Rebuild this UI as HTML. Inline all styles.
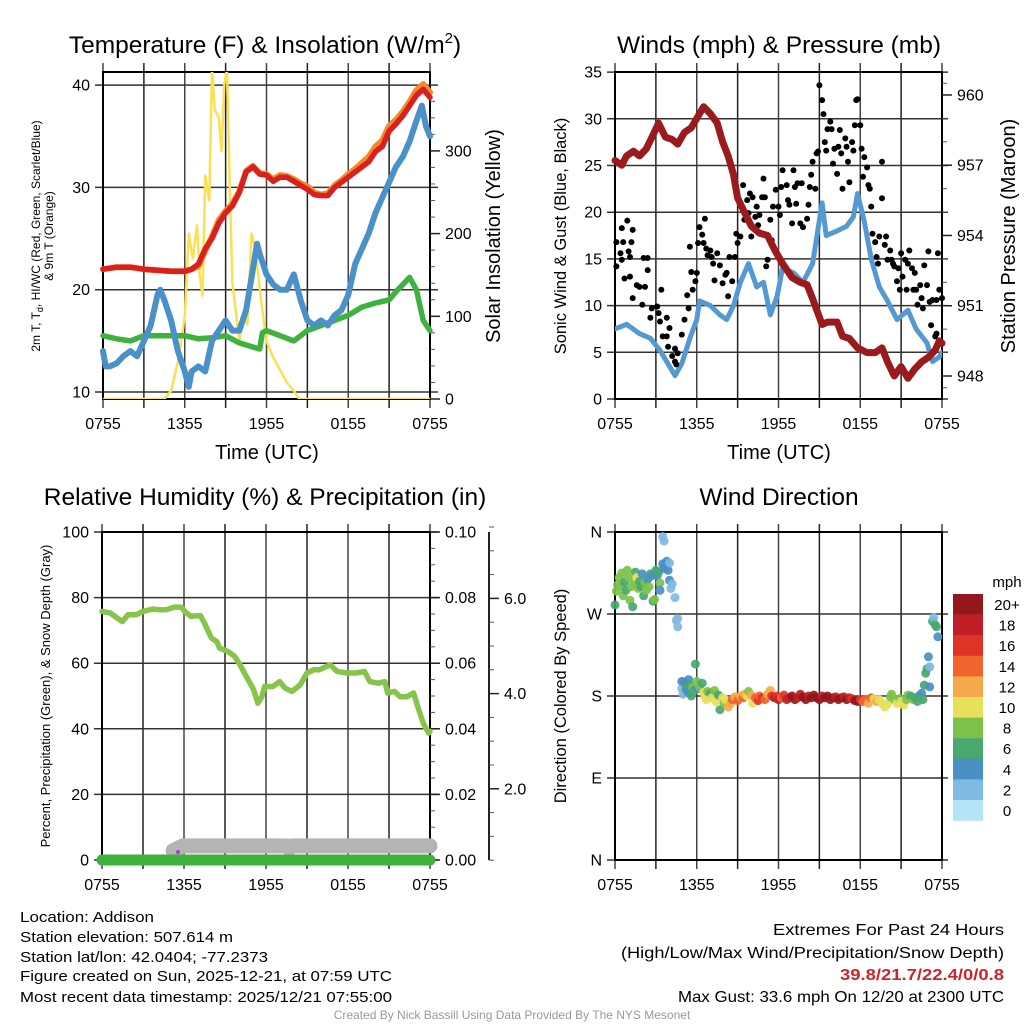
<!DOCTYPE html>
<html><head><meta charset="utf-8"><style>
html,body{margin:0;padding:0;background:#fff}
svg{display:block;font-family:"Liberation Sans",Arial,sans-serif}
</style></head><body>
<svg id="fig" width="1024" height="1024" viewBox="0 0 1024 1024" xmlns="http://www.w3.org/2000/svg">
<defs>
<clipPath id="c1"><rect x="103" y="72" width="327" height="327"/></clipPath>
<clipPath id="c2"><rect x="615" y="72" width="327" height="327"/></clipPath>
</defs>
<text x="265" y="53" font-size="24.5" text-anchor="middle">Temperature (F) &amp; Insolation (W/m<tspan font-size="15" dy="-10">2</tspan><tspan dy="10">)</tspan></text>
<text x="779" y="53" font-size="24.5" text-anchor="middle">Winds (mph) &amp; Pressure (mb)</text>
<text x="265" y="505" font-size="24.5" text-anchor="middle">Relative Humidity (%) &amp; Precipitation (in)</text>
<text x="779" y="505" font-size="24.5" text-anchor="middle">Wind Direction</text>

<text x="267" y="459" font-size="20" text-anchor="middle">Time (UTC)</text>
<text x="779" y="459" font-size="20" text-anchor="middle">Time (UTC)</text>

<g font-size="12" text-anchor="middle">
<text transform="translate(40,236) rotate(-90)">2m T, T<tspan font-size="9" dy="3">d</tspan><tspan dy="-3">, HI/WC (Red, Green, Scarlet/Blue)</tspan></text>
<text transform="translate(53,236) rotate(-90)">&amp; 9m T (Orange)</text>
</g>
<text transform="translate(500,236) rotate(-90)" font-size="20" text-anchor="middle">Solar Insolation (Yellow)</text>
<text transform="translate(566,236) rotate(-90)" font-size="16.5" text-anchor="middle">Sonic Wind &amp; Gust (Blue, Black)</text>
<text transform="translate(1015,236) rotate(-90)" font-size="20" text-anchor="middle">Station Pressure (Maroon)</text>
<text transform="translate(50,696) rotate(-90)" font-size="13" text-anchor="middle">Percent, Precipitation (Green), &amp; Snow Depth (Gray)</text>
<text transform="translate(566,696) rotate(-90)" font-size="16.5" text-anchor="middle">Direction (Colored By Speed)</text>

<g font-size="15">
<text x="20" y="922" textLength="134" lengthAdjust="spacingAndGlyphs">Location: Addison</text>
<text x="20" y="942" textLength="213" lengthAdjust="spacingAndGlyphs">Station elevation: 507.614 m</text>
<text x="20" y="962" textLength="248" lengthAdjust="spacingAndGlyphs">Station lat/lon: 42.0404; -77.2373</text>
<text x="20" y="981" textLength="372" lengthAdjust="spacingAndGlyphs">Figure created on Sun, 2025-12-21, at 07:59 UTC</text>
<text x="20" y="1002" textLength="372" lengthAdjust="spacingAndGlyphs">Most recent data timestamp: 2025/12/21 07:55:00</text>
</g>
<g font-size="16" text-anchor="end">
<text x="1004" y="935" textLength="231" lengthAdjust="spacingAndGlyphs">Extremes For Past 24 Hours</text>
<text x="1004" y="958" textLength="383" lengthAdjust="spacingAndGlyphs">(High/Low/Max Wind/Precipitation/Snow Depth)</text>
<text x="1004" y="980" textLength="164" lengthAdjust="spacingAndGlyphs" fill="#c8252c" font-weight="bold">39.8/21.7/22.4/0/0.8</text>
<text x="1004" y="1002" textLength="326" lengthAdjust="spacingAndGlyphs">Max Gust: 33.6 mph On 12/20 at 2300 UTC</text>
</g>
<text x="512" y="1019" font-size="12" fill="#999" text-anchor="middle">Created By Nick Bassill Using Data Provided By The NYS Mesonet</text>
<g id="layer"></g>
</svg>
<script>
// ---------- Data ----------
const xTickLabels = ["0755","1355","1955","0155","0755"];
// Temperature panel
const tempHours = [0,1,2,3,4,5,6,6.5,7,7.5,8,8.5,9,9.5,10,10.5,11,11.5,12,12.5,13,13.5,14,14.5,15,15.5,16,16.5,17,17.5,18,18.5,19,19.5,20,20.5,21,21.5,22,22.5,23,23.5,24];
const tempRed = [22,22.2,22.2,22,21.9,21.8,21.8,22,22.5,24,25,26.5,27.5,28.2,29.5,31.5,32,31.3,31.2,30.6,31,31,30.6,30.2,29.8,29.3,29.2,29.2,30,30.5,31,31.5,32,32.5,33.5,34,35.5,36.2,37,38,39,39.6,38.8];
const tempOrange = [22,22.2,22.2,22,21.9,21.8,21.8,22,22.3,23.8,25.2,26.8,27.7,28.4,29.6,31.6,32.1,31.4,31.3,30.8,31.2,31.1,30.8,30.4,30.1,29.5,29.3,29.4,30.2,30.7,31.3,31.8,32.4,33,34,34.6,36,36.6,37.4,38.4,39.5,40.1,39.3];
const dewHours = [0,0.2,0.5,1,1.5,2,2.5,3,3.5,4,4.2,4.5,5,5.5,6,6.3,6.5,7,7.5,8,8.5,9,9.5,10,10.5,11,11.3,11.5,12,12.5,13,13.5,14,14.5,15,15.5,16,16.5,17,17.5,18,18.5,19,19.5,20,20.5,21,21.5,22,22.5,23,23.4,23.7,24];
const dewBlue = [14,12.5,12.5,12.8,13.5,14,13.5,15,16.5,19.5,20,19,17,14,12,10.5,12,12.5,12,15,16,17,16,16,18,22,24.5,23.5,21.5,20.5,20,20,21.5,19,17,16.5,17,16.5,17.5,18,19.5,22.5,24,25.5,27.5,29,30.5,32,33,34.5,36.5,38,36,35];
const hiwcHours = [0,1,2,3,4,5,6,7,8,9,10,11,11.5,11.7,12,13,14,15,16,17,18,19,20,21,21.5,22,22.5,23,23.5,24];
const hiwcGreen = [15.5,15.2,15,15.5,15.5,15.5,15.5,15.2,15.3,15.5,14.8,14.4,14.2,15.8,16,15.5,15,16,16.5,17,17.5,18.3,18.7,19,19.8,20.5,21.2,20,17,16];
const solarHours = [0,4.5,5,5.5,6,6.3,6.6,6.9,7.1,7.3,7.5,7.8,8,8.2,8.5,8.7,8.9,9.1,9.3,9.5,9.8,10,10.3,10.6,10.9,11.2,11.6,12,12.5,13,13.5,14,14.4,24];
const solarYellow = [0,0,10,45,100,200,170,210,150,125,270,240,400,350,340,300,380,400,260,140,100,70,100,90,200,180,120,70,50,35,20,10,0,0];
// Wind panel
const windHours = [0,0.85,1.8,2.6,3.3,4.0,4.4,4.9,5.5,6.0,6.2,7.0,7.7,8.2,8.7,9.2,9.8,10.4,10.9,11.4,11.9,12.3,13.1,13.8,14.5,15.2,15.5,16.3,17.0,17.5,17.8,18.3,18.8,19.4,20.0,20.7,21.5,22.1,22.9,23.3,23.8,24];
const windSpeed = [7.5,8,7,6.5,5.2,3.5,2.5,3.8,6.5,8.5,10.5,10,9,8.5,10,12.5,14.5,12,12.5,9,11,14,13.5,12.5,14.5,21,17.5,18,18.5,19.5,22,19,15,12,10.5,8.5,9.5,7.5,6,4,4.5,5];
const presHours = [0,0.5,0.85,1.35,1.8,2.3,2.8,3.2,3.7,4.2,4.6,5.1,5.6,6.0,6.5,7.0,7.5,7.9,8.3,8.7,9.0,9.5,10.0,10.6,11.2,11.7,12.3,13.0,13.6,14.1,14.5,15.2,15.6,16.3,16.7,17.2,17.8,18.5,19.1,19.6,20.0,20.5,21.0,21.5,22.0,22.5,23.0,23.5,23.8,24];
const presMb = [957.2,957.0,957.4,957.6,957.4,957.7,958.3,958.8,958.2,958.1,957.9,958.4,958.6,959.0,959.5,959.2,958.8,958.0,957.4,956.6,955.6,955.0,954.4,954.1,954.0,953.4,952.8,952.2,952.0,951.9,951.3,950.2,950.3,950.3,949.7,949.6,949.2,949.0,949.0,949.2,948.6,948.0,948.4,947.9,948.3,948.6,948.8,949.1,949.5,949.4];
const gustHours = [0.1,0.1,0.4,0.5,0.6,0.5,0.7,0.9,1.0,1.1,1.2,1.3,1.1,1.3,1.6,1.8,2.1,2.2,2.4,2.4,2.0,2.6,2.7,3.1,3.2,3.4,3.3,3.5,3.8,3.8,3.9,4.0,4.2,4.4,4.4,4.5,4.6,4.9,5.1,5.3,5.4,5.5,5.6,5.7,5.9,6.0,6.1,6.2,6.4,6.5,6.6,6.7,6.8,7.0,7.1,7.2,7.3,7.5,7.7,7.9,8.1,8.2,8.3,8.4,8.6,8.8,8.9,9.0,9.2,9.4,9.5,9.7,9.8,9.9,10.0,10.1,10.3,10.4,10.5,10.6,10.8,10.9,11.0,11.1,11.2,11.4,11.5,11.6,11.8,12.0,12.1,12.2,12.3,12.6,12.7,12.8,13.0,13.1,13.2,13.3,13.4,13.6,13.7,13.8,14.1,14.2,14.3,14.4,14.5,14.7,14.8,14.9,15.0,15.2,15.3,15.4,15.5,15.6,15.8,15.9,16.0,16.1,16.3,16.4,16.5,16.6,16.7,16.9,17.0,17.1,17.2,17.4,17.5,17.6,17.7,17.8,18.0,18.1,18.2,18.3,18.5,18.6,18.7,18.8,18.9,19.1,19.2,19.3,19.4,19.6,19.6,19.8,19.9,20.0,20.2,20.3,20.4,20.5,20.7,20.8,20.9,21.0,21.1,21.3,21.4,21.5,21.6,21.8,21.9,22.0,22.1,22.2,22.4,22.5,22.6,22.7,22.9,23.0,23.1,23.2,23.3,23.5,23.6,23.7,23.8,24.0,23.6];
const gustSpeed = [14.2,16.8,15.6,18.3,16.8,14.9,12.9,19.1,15.8,15.2,16.8,18.1,13.1,10.8,12.2,12.0,15.1,12.0,13.8,15.1,10.1,8.7,9.7,9.9,9.2,11.7,8.3,6.7,8.7,6.7,5.6,7.6,4.6,5.4,4.0,3.7,4.9,6.9,8.5,11.1,9.7,16.3,13.6,11.7,12.6,13.5,16.7,18.4,17.6,16.7,19.3,16.1,15.4,15.9,15.2,14.5,12.7,15.6,14.3,12.4,13.3,13.5,11.0,15.2,12.6,15.2,17.7,16.7,17.4,22.9,19.2,21.3,19.9,22.0,17.4,21.6,19.5,20.6,18.6,19.7,21.6,23.6,21.6,14.2,14.9,19.2,17.0,20.6,22.4,20.6,19.7,22.7,24.5,22.9,21.3,20.8,18.8,24.5,22.7,20.9,23.1,18.8,23.1,18.4,19.3,20.8,22.7,24.0,25.4,22.5,26.3,26.5,33.6,32.0,30.5,27.5,26.6,28.9,29.7,28.9,25.2,26.8,24.1,27.0,28.8,26.3,22.5,27.9,27.0,25.4,23.2,27.5,26.6,29.3,32.0,32.1,29.3,26.8,23.8,25.9,24.8,22.9,22.5,20.6,17.7,16.8,15.2,14.5,17.4,21.5,25.4,16.5,17.4,14.9,15.9,14.9,14.5,14.2,12.6,14.0,11.7,15.6,13.1,14.9,11.7,14.5,15.9,14.0,11.7,13.5,11.7,10.1,12.2,10.8,9.7,14.3,12.2,15.8,10.4,7.9,10.6,6.7,10.6,15.6,11.7,10.8,7.0];
// Humidity panel
const rhHours = [0,0.6,1.3,1.5,1.9,2.5,3.0,3.7,4.2,4.7,5.3,5.8,6.05,6.5,7.2,7.5,8.0,8.4,8.6,9.2,9.7,10.1,10.7,11.1,11.4,11.7,11.9,12.5,13.0,13.4,13.9,14.5,15.0,15.5,15.9,16.7,17.2,17.9,18.6,19.2,19.6,20.2,20.7,20.9,21.4,21.8,22.3,22.8,23.1,23.5,23.9,24.0];
const rhPercent = [75.8,75.3,73.2,72.7,74.8,74.8,75.8,76.5,76.3,76.3,77.1,77.1,75.8,74.3,74.5,72.2,67.7,66.6,64.6,63.6,62.1,59.5,54.9,51.9,47.8,49.8,52.9,52.9,54.4,52.4,51.4,53.4,57.0,58.0,58.0,59.5,57.5,57.0,57.0,57.5,54.4,53.9,54.4,50.9,51.4,49.8,49.8,50.9,46.8,41.7,38.7,39.2];
const precipHours = [0,24];
const precipInches = [0,0];
const snowHours = [5.2,5.9,9,13.5,13.7,13.9,18,24];
const snowInches = [0.7,0.8,0.8,0.8,0.75,0.8,0.8,0.8];
// Direction panel
const dirHours = [0.0,0.1,0.2,0.3,0.4,0.5,0.6,0.7,0.8,0.9,1.0,1.1,1.2,1.3,1.4,1.5,1.6,1.7,1.8,1.9,2.0,2.1,2.2,2.3,2.4,2.5,2.6,2.7,2.8,2.9,3.0,3.1,3.2,3.3,3.3,3.5,3.6,3.5,3.6,3.7,3.8,3.9,4.0,4.0,4.1,4.2,4.4,4.5,4.6,4.6,4.9,4.9,5.0,5.1,5.2,5.3,5.4,5.5,5.6,5.7,5.8,5.9,6.0,6.1,6.2,6.4,6.5,6.6,6.7,6.8,7.0,7.1,7.3,7.4,7.6,7.7,7.9,8.0,8.1,8.3,8.5,8.6,8.8,9.0,9.2,9.4,9.5,9.7,9.8,10.0,10.1,10.3,10.5,10.6,10.8,11.0,11.2,11.4,11.5,11.7,11.9,12.0,12.2,12.4,12.6,12.8,13.0,13.2,13.4,13.6,13.8,14.0,14.2,14.4,14.6,14.8,15.0,15.2,15.4,15.6,15.8,16.0,16.2,16.4,16.6,16.8,17.0,17.2,17.4,17.6,17.8,18.0,18.2,18.4,18.6,18.8,19.0,19.2,19.4,19.6,19.8,20.0,20.2,20.3,20.5,20.7,20.9,21.0,21.2,21.4,21.5,21.7,21.9,22.0,22.2,22.3,22.5,22.6,22.7,22.8,22.9,23.0,23.1,23.1,23.3,23.4,23.5,23.6,23.7];
const dirDegrees = [280,295,302,310,300,315,290,305,296,318,310,285,300,278,305,316,310,298,306,300,314,290,304,296,308,300,314,312,284,286,318,312,316,304,296,325,320,355,350,322,328,318,326,307,298,303,288,263,265,256,188,196,182,195,188,185,198,192,180,189,186,215,196,188,190,194,184,180,176,185,183,178,186,174,181,165,178,172,176,168,172,176,179,175,180,178,182,180,185,181,172,178,175,180,178,176,182,186,180,178,180,176,178,181,176,178,180,176,178,182,179,176,180,178,181,178,176,180,178,180,176,178,179,176,178,179,176,178,177,175,174,176,174,176,172,178,177,174,176,172,168,171,179,182,176,172,177,174,170,176,181,180,176,178,174,180,183,176,192,205,210,223,212,190,262,266,258,256,245];
const dirSpeeds = [6,8,8,8,8,8,8,6,6,8,8,8,8,6,8,6,10,8,6,6,4,6,8,8,4,8,6,4,6,8,6,4,6,8,4,4,4,2,2,4,4,4,2,4,2,2,2,2,2,2,2,4,2,4,6,4,4,6,6,8,6,6,8,4,8,6,10,10,10,8,6,10,8,10,6,6,10,8,10,12,12,14,12,14,12,14,12,10,8,12,10,14,16,14,16,14,12,12,16,18,16,18,14,16,18,18,20,20,18,18,20,20,18,20,20,20,20,18,20,20,20,20,18,20,20,18,20,18,16,20,20,16,14,14,12,14,10,12,10,10,10,10,8,8,8,10,8,10,10,8,8,6,8,6,6,6,4,6,6,6,6,4,2,4,6,2,6,6,4];
const speedBins = ["0","2","4","6","8","10","12","14","16","18","20+"];
const speedColors = ["#b5e3f8","#7fbae3","#4a8fc4","#48a870","#7dc14b","#e6e05b","#f6a94a","#f0652d","#de3427","#c11e25","#93171b"];

// ---------- Helpers ----------
const NS = "http://www.w3.org/2000/svg";
const layer = document.getElementById("layer");
function mk(tag, attrs, parent) {
  const e = document.createElementNS(NS, tag);
  for (const k in attrs) e.setAttribute(k, attrs[k]);
  (parent || layer).appendChild(e);
  return e;
}
function txt(x, y, s, size, anchor, parent) {
  const t = mk("text", {x: x, y: y, "font-size": size, "text-anchor": anchor}, parent);
  t.textContent = s;
  return t;
}
function pathFrom(xs, ys, sx, sy) {
  let d = "";
  for (let i = 0; i < xs.length; i++) d += (i ? "L" : "M") + sx(xs[i]).toFixed(1) + "," + sy(ys[i]).toFixed(1);
  return d;
}

// ---------- Panel frame ----------
function frame(name, x0, x1, y0, y1, hTicks, sy, leftLabels, yTop, rightX) {
  const g = mk("g", {});
  
  
  const sx = h => x0 + h * (x1 - x0) / 24;
  for (let i = 0; i <= 8; i++) {
    const x = sx(i * 3);
    const l = mk("line", {x1: x, x2: x, y1: yTop, y2: y1 + 9, stroke: i % 2 ? "#222" : "#444", "stroke-width": 1.5}, g);
    
    
  }
  hTicks.forEach((v, i) => {
    const y = sy(v);
    const l = mk("line", {x1: x0 - 8, x2: rightX, y1: y, y2: y, stroke: "#333", "stroke-width": 1.5}, g);
    
    
    const t = txt(x0 - 13, y + 5.5, leftLabels[i], 16, "end", g);
    
    
  });
  const b = mk("rect", {x: x0, y: y0, width: x1 - x0, height: y1 - y0, fill: "none", stroke: "#000", "stroke-width": 2}, g);
  
  
  xTickLabels.forEach((s, i) => {
    const t = txt(sx(i * 6), y1 + 30, s, 16, "middle", g);
    
    
  });
  return sx;
}
function rightTicks(x, vals, sy, labels, minorVals, g) {
  minorVals.forEach(v => {
    const l = mk("line", {x1: x, x2: x + 5, y1: sy(v), y2: sy(v), stroke: "#555", "stroke-width": 1}, g);
    
    
  });
  vals.forEach((v, i) => {
    const l = mk("line", {x1: x, x2: x + 10, y1: sy(v), y2: sy(v), stroke: "#222", "stroke-width": 1.5}, g);
    
    
    const t = txt(x + 15, sy(v) + 5.5, labels[i], 16, "start", g);
    
    
  });
}
function series(d, color, w, name, clip) {
  const p = mk("path", {d: d, fill: "none", stroke: color, "stroke-width": w, "stroke-linejoin": "round", "stroke-linecap": "round"});
  if (clip) p.setAttribute("clip-path", clip);
  
  
  return p;
}

// ---------- Panel 1: Temperature ----------
const tY = T => 392 - (T - 10) * 10.23;
const sY = S => 399 - S * 0.827;
const sx1 = frame("temperature", 103, 430, 72, 399, [10,20,30,40], tY, ["10","20","30","40"], 63, 438);
const g1 = mk("g", {});


rightTicks(430, [0,100,200,300], sY, ["0","100","200","300"], [20,40,60,80,120,140,160,180,220,240,260,280,320,340,360,380], g1);
series(pathFrom(solarHours, solarYellow, sx1, sY), "#fbe052", 2.5, "solar-insolation-line", "url(#c1)");
series(pathFrom(hiwcHours, hiwcGreen, sx1, tY), "#3fb13f", 5.5, "heat-index-wind-chill-line");
series(pathFrom(dewHours, dewBlue, sx1, tY), "#4a90c9", 6, "dewpoint-line");
series(pathFrom(tempHours, tempOrange, sx1, tY), "#f28a2a", 6, "temperature-9m-line");
series(pathFrom(tempHours, tempRed, sx1, tY), "#d9201f", 5.5, "temperature-2m-line");

// ---------- Panel 2: Winds ----------
const wY = w => 399 - w * 9.34;
const pY = p => 376 - (p - 948) * 23.42;
const sx2 = frame("winds", 615, 942, 72, 399, [0,5,10,15,20,25,30,35], wY, ["0","5","10","15","20","25","30","35"], 63, 948);
const g2 = mk("g", {});


rightTicks(942, [948,951,954,957,960], pY, ["948","951","954","957","960"], [947.5,949,950,952,953,955,956,958,959,960.5], g2);
series(pathFrom(windHours, windSpeed, sx2, wY), "#5499d2", 5, "sonic-wind-line", "url(#c2)");
const gg = mk("g", {fill: "#000"});


gustHours.forEach((h, i) => {
  const c = mk("circle", {cx: sx2(h).toFixed(1), cy: wY(gustSpeed[i]).toFixed(1), r: 3}, gg);
  
  
});
series(pathFrom(presHours, presMb, sx2, pY), "#9b1a1c", 7, "station-pressure-line");

// ---------- Panel 3: Humidity ----------
const rY = r => 860 - r * 3.28;
const pcY = p => 860 - p * 3280;
const snY = d => 884 - d * 47.6;
const sx3 = frame("humidity", 102, 430, 532, 860, [0,20,40,60,80,100], rY, ["0","20","40","60","80","100"], 524, 438);
const g3 = mk("g", {});


rightTicks(430, [0,0.02,0.04,0.06,0.08,0.10], pcY, ["0.00","0.02","0.04","0.06","0.08","0.10"], [0.005,0.01,0.015,0.025,0.03,0.035,0.045,0.05,0.055,0.065,0.07,0.075,0.085,0.09,0.095], g3);
const g3b = mk("g", {});


mk("line", {x1: 489, x2: 489, y1: 532, y2: 860, stroke: "#222", "stroke-width": 2}, g3b);
rightTicks(489, [2,4,6], snY, ["2.0","4.0","6.0"], [1.5,2.5,3,3.5,4.5,5,5.5,6.5,7,7.5,1,0.5], g3b);
series(pathFrom(snowHours, snowInches, sx3, snY), "#b4b4b4", 15, "snow-depth-line");
series(pathFrom(precipHours, precipInches, sx3, pcY), "#3fb13f", 11, "precipitation-line");
const pd = mk("circle", {cx: 178, cy: 852, r: 2, fill: "#a23bd6"});


series(pathFrom(rhHours, rhPercent, sx3, rY), "#86c54a", 5.5, "relative-humidity-line");

// ---------- Panel 4: Wind direction ----------
const dY = d => 860 - d * 328 / 360;
const sx4 = frame("direction", 615, 942, 532, 860, [0,90,180,270,360], dY, ["N","E","S","W","N"], 524, 948);
const g4 = mk("g", {});


dirHours.forEach((h, i) => {
  const idx = Math.min(10, Math.floor(dirSpeeds[i] / 2));
  const c = mk("circle", {cx: sx4(h).toFixed(1), cy: dY(dirDegrees[i]).toFixed(1), r: 4.5, fill: speedColors[idx], "fill-opacity": 0.92}, g4);
  
  
});
const cb = mk("g", {});


const cbt = txt(1007, 587, "mph", 15, "middle", cb);


for (let i = 0; i < speedBins.length; i++) {
  const j = speedBins.length - 1 - i;
  const y = 594 + i * 20.6;
  const r = mk("rect", {x: 953, y: y, width: 30, height: 20.8, fill: speedColors[j]}, cb);
  
  
  const t = txt(1007, y + 16, speedBins[j], 15, "middle", cb);
  
  
}
</script>
</body></html>
